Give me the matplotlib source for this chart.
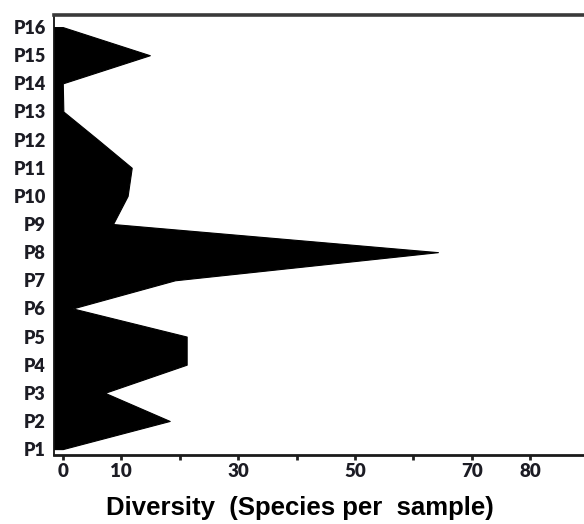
import matplotlib
matplotlib.use("Agg")
import matplotlib.pyplot as plt

# Data
samples = ["P1", "P2", "P3", "P4", "P5", "P6", "P7", "P8",
           "P9", "P10", "P11", "P12", "P13", "P14", "P15", "P16"]
sample_pos = list(range(1, 17))
diversity = [0, 18.3, 7.2, 21.2, 21.2, 1.7, 19.2, 64.2,
             8.6, 11.1, 11.8, 6.0, 0.1, 0, 14.9, 0]

xtick_values = [0, 10, 20, 30, 40, 50, 60, 70, 80]
xtick_labels = ["0", "10", "", "30", "", "50", "", "70", "80"]
xlabel_text = "Diversity  (Species per  sample)"

fig = plt.figure(figsize=(5.84, 5.24), dpi=100)
ax = fig.add_axes([54 / 584, 1 - 455 / 524, 1 - 54 / 584, (455 - 15) / 524])

xmin, xmax = -1.5, 89.2
ax.fill_betweenx(sample_pos, xmin, diversity, color="black", linewidth=0.8,
                 edgecolor="black")

ax.set_xlim(xmin, xmax)
ax.set_ylim(0.79, 16.43)

ax.set_yticks(sample_pos)
ax.set_yticklabels(samples, fontfamily="Lato", fontweight="heavy",
                   fontsize=13, color="#1c1c24")
ax.tick_params(axis="y", length=0, pad=6)

ax.set_xticks(xtick_values)
ax.set_xticklabels(xtick_labels, fontfamily="Lato", fontweight="heavy",
                   fontsize=13.5, color="#1c1c24")
ax.tick_params(axis="x", direction="out", length=3.5, width=2, pad=2.5,
               color="#222222")

ax.spines["right"].set_visible(False)
ax.spines["top"].set_linewidth(2.6)
ax.spines["top"].set_color("#3a3a3a")
ax.spines["bottom"].set_linewidth(2.0)
ax.spines["bottom"].set_color("#1a1a1a")
ax.spines["left"].set_linewidth(1.3)
ax.spines["left"].set_color("#111111")

fig.text(300 / 584, 1 - 515 / 524, xlabel_text, ha="center", va="baseline",
         fontfamily="Liberation Sans", fontweight="bold", fontsize=18.5,
         color="black")

fig.savefig("out.png", dpi=100)
